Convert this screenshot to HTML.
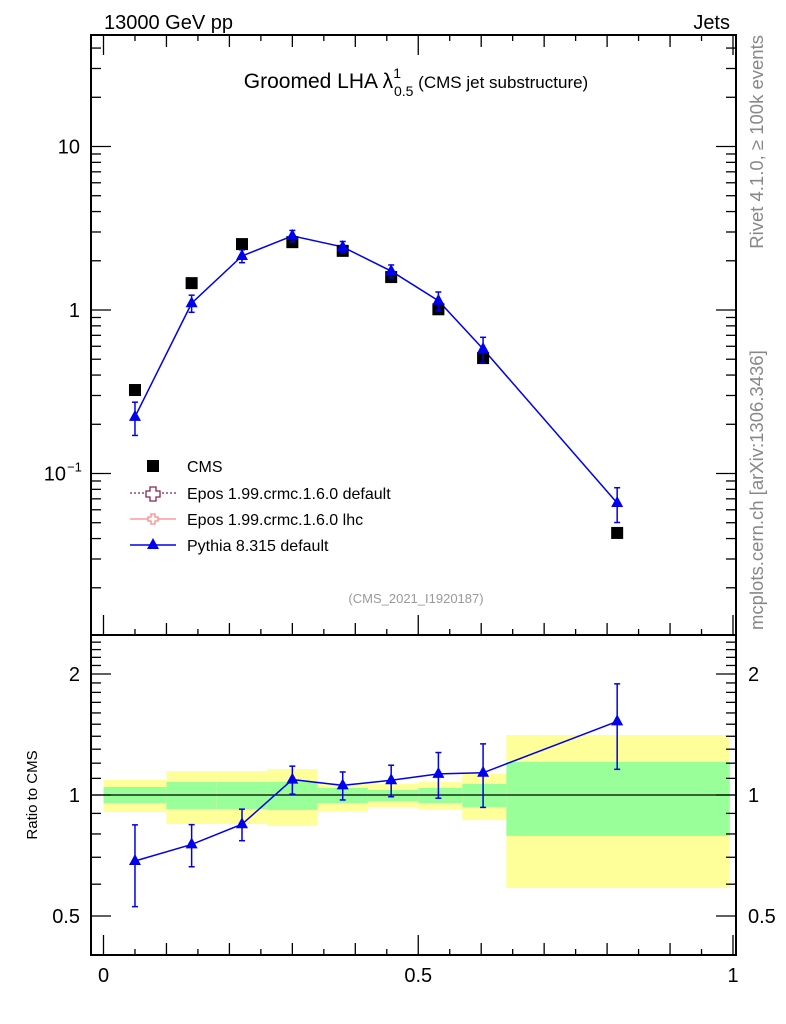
<!DOCTYPE html>
<html><head><meta charset="utf-8"><style>
body{margin:0;background:#fff;}
svg{display:block;font-family:"Liberation Sans",Arial,sans-serif;}
</style></head><body>
<svg id="c" width="786" height="1024" viewBox="0 0 786 1024">
<text x="104" y="29" font-size="20">13000 GeV pp</text>
<text x="730" y="29" font-size="20" text-anchor="end">Jets</text>
<text x="416" y="88" font-size="21" text-anchor="middle">Groomed LHA λ<tspan font-size="14" dy="-10">1</tspan><tspan font-size="14" dx="-7" dy="18">0.5</tspan><tspan font-size="17" dy="-8"> (CMS jet substructure)</tspan></text>
<text transform="translate(763,35) rotate(-90)" font-size="18.5" fill="#888" text-anchor="end">Rivet 4.1.0, ≥ 100k events</text>
<text transform="translate(763,630) rotate(-90)" font-size="18.5" fill="#888">mcplots.cern.ch [arXiv:1306.3436]</text>
<text x="416" y="603" font-size="13" fill="#999" text-anchor="middle">(CMS_2021_I1920187)</text>
<text transform="translate(37,795) rotate(-90)" font-size="15" text-anchor="middle">Ratio to CMS</text>
<g id="bands"></g><g id="axes"></g><g id="marks"></g><g id="legend"></g>
</svg>
<script>
const xCenters=[0.05,0.14,0.22,0.30,0.38,0.457,0.532,0.603,0.816];
const binEdges=[0,0.1,0.18,0.26,0.34,0.42,0.5,0.57,0.64,0.995];
const cmsValues=[0.324,1.46,2.53,2.6,2.3,1.59,1.01,0.508,0.0433];
const pythiaValues=[0.222,1.10,2.14,2.84,2.43,1.73,1.14,0.577,0.066];
const pythiaRelErr=[0.23,0.12,0.09,0.08,0.08,0.09,0.13,0.18,0.24];
const statUp=[1.047,1.077,1.077,1.077,1.041,1.029,1.041,1.065,1.208];
const statDn=[0.955,0.923,0.923,0.918,0.955,0.966,0.955,0.933,0.791];
const totUp=[1.09,1.147,1.147,1.16,1.071,1.065,1.077,1.128,1.41];
const totDn=[0.907,0.847,0.847,0.837,0.912,0.933,0.923,0.866,0.587];
const xTickLabels=["0","0.5","1"];
const mainTickLabels=["10","1"];

const NS="http://www.w3.org/2000/svg";
const L=91,R=736,T=35,MB=635,B=955;
const X=v=>103.5+v*629.5;
const YM=v=>310-163.5*Math.log10(v);
const YR=v=>795-402*Math.log10(v);
function mk(p,tag,a){const e=document.createElementNS(NS,tag);for(const k in a)e.setAttribute(k,a[k]);p.appendChild(e);return e;}
const bands=document.getElementById('bands'),axes=document.getElementById('axes'),marks=document.getElementById('marks'),leg=document.getElementById('legend');
for(let i=0;i<cmsValues.length;i++){
 const x0=X(binEdges[i]),x1=X(binEdges[i+1]);
 const y=mk(bands,'rect',{x:x0,y:YR(totUp[i]),width:x1-x0,height:YR(totDn[i])-YR(totUp[i]),fill:'#ffff99'});
 
 
 const g=mk(bands,'rect',{x:x0,y:YR(statUp[i]),width:x1-x0,height:YR(statDn[i])-YR(statUp[i]),fill:'#99ff99'});
 
 
}
mk(axes,'line',{x1:L,x2:R,y1:YR(1),y2:YR(1),stroke:'#000','stroke-width':1.2});
mk(axes,'rect',{x:L,y:T,width:R-L,height:MB-T,fill:'none',stroke:'#000','stroke-width':2});
mk(axes,'rect',{x:L,y:MB,width:R-L,height:B-MB,fill:'none',stroke:'#000','stroke-width':2});
function hl(y,len){mk(axes,'line',{x1:L,x2:L+len,y1:y,y2:y,stroke:'#000','stroke-width':1.3});mk(axes,'line',{x1:R,x2:R-len,y1:y,y2:y,stroke:'#000','stroke-width':1.3});}
function vl(x,y,len){mk(axes,'line',{x1:x,x2:x,y1:y,y2:y-len,stroke:'#000','stroke-width':1.3});}
function txt(x,y,s,anchor,name){const t=mk(axes,'text',{x:x,y:y,'font-size':20,'text-anchor':anchor});t.textContent=s;return t;}
for(let d=-2;d<=1;d++){for(let m=1;m<=9;m++){const v=m*Math.pow(10,d);const y=YM(v);if(y<T||y>MB)continue;hl(y,m==1?20:10);}}
txt(80,YM(10)+7,mainTickLabels[0],'end','y-tick-label');
txt(80,YM(1)+7,mainTickLabels[1],'end','y-tick-label');
txt(66,YM(0.1)+7,'10','end','y-tick-label');
const sup=mk(axes,'text',{x:67,y:YM(0.1)-2,'font-size':13});sup.textContent='−1';


const rt=[0.5,0.6,0.7,0.8,0.9,1,1.1,1.2,1.3,1.4,1.5,1.6,1.7,1.8,1.9,2,2.1,2.2,2.3,2.4];
rt.forEach(v=>hl(YR(v),(v==0.5||v==1||v==2)?20:10));
[[0.5,'0.5'],[1,'1'],[2,'2']].forEach(([v,s])=>{txt(80,YR(v)+7,s,'end','ratio-y-tick-label');txt(748,YR(v)+7,s,'start','ratio-y-tick-label-right');});
for(let k=0;k<=20;k++){const v=k*0.05;const x=X(v);const len=(k%10==0)?20:(k%2==0?12:6);
 vl(x,MB,len);vl(x,B,len);mk(axes,'line',{x1:x,x2:x,y1:T,y2:T+len,stroke:'#000','stroke-width':1.3});}
xTickLabels.forEach((s,i)=>txt(X(i*0.5),982,s,'middle','x-tick-label'));
const pts=xCenters.map((x,i)=>X(x)+','+YM(pythiaValues[i])).join(' ');
const pl=mk(marks,'polyline',{points:pts,fill:'none',stroke:'#0000ee','stroke-width':1.5});


const ratio=pythiaValues.map((v,i)=>v/cmsValues[i]);
const rpl=mk(marks,'polyline',{points:xCenters.map((x,i)=>X(x)+','+YR(ratio[i])).join(' '),fill:'none',stroke:'#0000ee','stroke-width':1.5});


function tri(x,y,name){const p=mk(marks,'path',{d:`M${x},${y-7}L${x+6},${y+4}L${x-6},${y+4}Z`,fill:'#0000ee'});}
function err(x,y1,y2){mk(marks,'line',{x1:x,x2:x,y1:y1,y2:y2,stroke:'#0000ee','stroke-width':1.5});[y1,y2].forEach(y=>mk(marks,'line',{x1:x-3,x2:x+3,y1:y,y2:y,stroke:'#0000ee','stroke-width':1.5}));}
xCenters.forEach((xv,i)=>{
 const x=X(xv);
 const c=mk(marks,'rect',{x:x-6,y:YM(cmsValues[i])-6,width:12,height:12,fill:'#000'});
 
 
 const p=pythiaValues[i],e=pythiaRelErr[i];
 err(x,YM(p*(1+e)),YM(p*(1-e)));
 tri(x,YM(p),'pythia-point');
 const r=ratio[i];
 err(x,YR(r*(1+e)),YR(r*(1-e)));
 tri(x,YR(r),'pythia-ratio-point');
});
const ly=[466,493,519,545];
const s=mk(leg,'rect',{x:147,y:ly[0]-6,width:12,height:12,fill:'#000'});


mk(leg,'line',{x1:130,x2:176,y1:ly[1],y2:ly[1],stroke:'#8b2252','stroke-width':1.3,'stroke-dasharray':'2,2'});
mk(leg,'path',{d:`M150,${ly[1]-6}h6v4h4v6h-4v4h-6v-4h-4v-6h4z`,fill:'#fff',stroke:'#8b2252','stroke-width':1.3});
mk(leg,'line',{x1:130,x2:176,y1:ly[2],y2:ly[2],stroke:'#ff8888','stroke-width':1.3});
mk(leg,'path',{d:`M151,${ly[2]-5}h4v3h3v4h-3v3h-4v-3h-3v-4h3z`,fill:'#fff',stroke:'#ff8888','stroke-width':1.3});
mk(leg,'line',{x1:130,x2:176,y1:ly[3],y2:ly[3],stroke:'#0000ee','stroke-width':1.5});
mk(leg,'path',{d:`M153,${ly[3]-7}L159,${ly[3]+4}L147,${ly[3]+4}Z`,fill:'#0000ee'});
const names=['CMS','Epos 1.99.crmc.1.6.0 default','Epos 1.99.crmc.1.6.0 lhc','Pythia 8.315 default'];
names.forEach((n,i)=>{const t=mk(leg,'text',{x:187,y:ly[i]+6,'font-size':16});t.textContent=n;
 
 });
</script>
</body></html>
